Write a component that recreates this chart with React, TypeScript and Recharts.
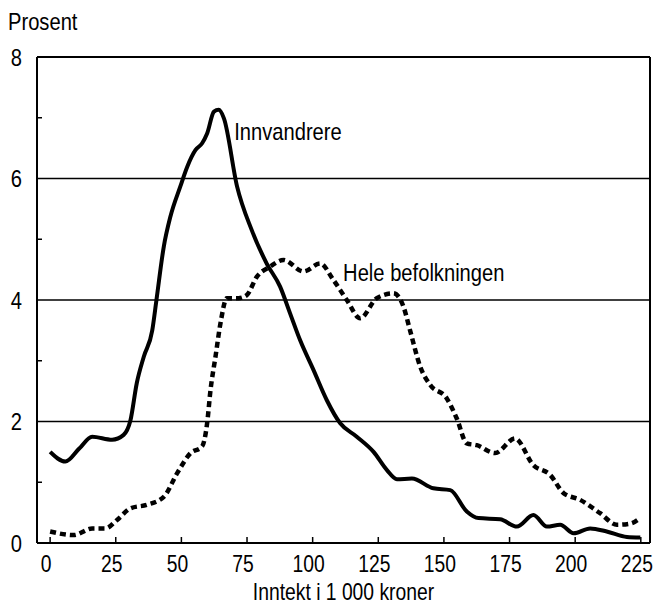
import React from 'react';
import { LineChart, Line, XAxis, YAxis, ReferenceLine, ReferenceDot } from 'recharts';

const innvandrereX = [0, 5.8, 11, 16, 23.6, 28, 30.6, 33, 35.7, 38.9, 40.5, 43.3, 45.8, 49.6, 52.2, 55.4, 57.9, 59.8, 62.4, 64.2, 66.2, 71.2, 76.8, 82.5, 87.6, 91.4, 95.2, 100.3, 105.4, 110.5, 116.8, 123.2, 128.3, 132.1, 137.8, 146, 152.4, 158.7, 163.2, 171.4, 177.8, 184.1, 189.2, 194.3, 199.4, 205.7, 212, 219.7, 224.8];
const innvandrereY = [1.5, 1.34, 1.55, 1.75, 1.7, 1.78, 2.02, 2.63, 3.07, 3.5, 4.0, 4.88, 5.37, 5.87, 6.19, 6.47, 6.58, 6.74, 7.1, 7.13, 6.99, 5.87, 5.15, 4.6, 4.22, 3.78, 3.34, 2.85, 2.35, 1.97, 1.75, 1.5, 1.2, 1.05, 1.06, 0.9, 0.87, 0.52, 0.41, 0.39, 0.27, 0.46, 0.27, 0.3, 0.16, 0.24, 0.19, 0.1, 0.09];

const heleX = [0, 9, 16, 21.1, 25.5, 30.6, 37, 43.3, 48.4, 53.5, 57.9, 59.8, 61.1, 63, 64.9, 67.3, 71.7, 74.9, 78.7, 83.8, 88.9, 96.5, 102.9, 107.9, 113, 118.1, 124.4, 130.8, 134.6, 137.1, 141, 144.8, 151.1, 154.9, 158.7, 162.5, 169.5, 177.1, 184.1, 190.5, 195.6, 201.9, 209.5, 215.9, 221, 224.8];
const heleY = [0.19, 0.13, 0.24, 0.24, 0.38, 0.57, 0.63, 0.76, 1.15, 1.48, 1.59, 1.97, 2.52, 3.07, 3.62, 4.03, 4.03, 4.08, 4.38, 4.55, 4.66, 4.47, 4.6, 4.33, 4.0, 3.7, 4.03, 4.11, 3.89, 3.5, 2.9, 2.6, 2.38, 2.05, 1.64, 1.61, 1.48, 1.72, 1.28, 1.12, 0.82, 0.71, 0.49, 0.3, 0.32, 0.41];

const xTicks = [0, 25, 50, 75, 100, 125, 150, 175, 200, 225];
const yTicks = [0, 1, 2, 3, 4, 5, 6, 7, 8];
const yLabelTicks = [0, 2, 4, 6, 8];
const gridValues = [2, 4, 6];
const xDomain: [number, number] = [-5, 228.5];
const yDomain: [number, number] = [0, 8];

const seriesNames = ['Innvandrere', 'Hele befolkningen'];
const yAxisTitle = 'Prosent';
const xAxisTitle = 'Inntekt i 1 000 kroner';

const innvandrereData = innvandrereX.map((x, i) => ({ x, y: innvandrereY[i] }));
const heleData = heleX.map((x, i) => ({ x, y: heleY[i] }));

const FONT = '"Liberation Sans", Arial, sans-serif';
const FS = 24;
const SQUEEZE = 0.84;

const NarrowText = ({ x, y, anchor = 'start', dy, size = FS, children }: any) => (
  <g transform={`translate(${x},${y}) scale(${SQUEEZE},1)`}>
    <text x={0} y={0} dy={dy} textAnchor={anchor} fontFamily={FONT} fontSize={size} fill="#000">
      {children}
    </text>
  </g>
);

const XTick = (props: any) => {
  const { x, y, payload } = props;
  const axisY = y - 10;
  return (
    <g>
      <line x1={x} x2={x} y1={axisY} y2={axisY - 6} stroke="#000" strokeWidth={1.5} />
      <NarrowText x={x - 4} y={axisY + 29} anchor="middle" size={23}>
        {payload.value}
      </NarrowText>
    </g>
  );
};

const YTick = (props: any) => {
  const { x, y, payload } = props;
  const axisX = x + 15;
  if (yLabelTicks.includes(payload.value)) {
    return (
      <NarrowText x={x} y={y} dy="0.36em" anchor="end">
        {payload.value}
      </NarrowText>
    );
  }
  return <line x1={axisX} x2={axisX + 5} y1={y} y2={y} stroke="#000" strokeWidth={1.5} />;
};

const SeriesLabel = (text: string) => (props: any) => {
  const vb = props.viewBox || {};
  return (
    <NarrowText x={vb.x} y={vb.y} dy="0.36em" anchor="start">
      {text}
    </NarrowText>
  );
};

const YTitle = () => (
  <NarrowText x={8} y={30} anchor="start">
    {yAxisTitle}
  </NarrowText>
);

const XTitle = (props: any) => {
  const vb = props.viewBox || { x: 0, y: 0, width: 0, height: 0 };
  return (
    <NarrowText x={vb.x + vb.width / 2} y={vb.y + vb.height - 5} anchor="middle" size={23}>
      {xAxisTitle}
    </NarrowText>
  );
};

export default function App() {
  return (
    <div style={{ position: 'absolute', left: 0, top: 0, background: '#fff' }}>
      <LineChart width={657} height={605} margin={{ top: 57, right: 7, bottom: 0, left: 0 }}>
        <XAxis
          dataKey="x"
          type="number"
          domain={xDomain}
          allowDataOverflow
          ticks={xTicks}
          interval={0}
          height={62}
          tickSize={0}
          tickMargin={10}
          tickLine={false}
          axisLine={{ stroke: '#000', strokeWidth: 2 }}
          tick={<XTick />}
          label={<XTitle />}
        />
        <YAxis
          type="number"
          domain={yDomain}
          ticks={yTicks}
          interval={0}
          width={37}
          tickSize={0}
          tickMargin={15}
          tickLine={false}
          axisLine={{ stroke: '#000', strokeWidth: 2 }}
          tick={<YTick />}
          label={<YTitle />}
        />
        {gridValues.map((v) => (
          <ReferenceLine key={v} y={v} stroke="#000" strokeWidth={1.5} />
        ))}
        <ReferenceLine y={yDomain[1]} stroke="#000" strokeWidth={2} />
        <ReferenceLine x={xDomain[1]} stroke="#000" strokeWidth={2} />
        <Line
          data={heleData}
          dataKey="y"
          name={seriesNames[1]}
          type="monotone"
          stroke="#000"
          strokeWidth={4.5}
          strokeDasharray="6 4"
          dot={false}
          activeDot={false}
          isAnimationActive={false}
        />
        <Line
          data={innvandrereData}
          dataKey="y"
          name={seriesNames[0]}
          type="monotone"
          stroke="#000"
          strokeWidth={4}
          dot={false}
          activeDot={false}
          isAnimationActive={false}
        />
        <ReferenceDot x={70.1} y={6.78} r={0} fill="none" stroke="none" label={SeriesLabel(seriesNames[0])} />
        <ReferenceDot x={111.6} y={4.46} r={0} fill="none" stroke="none" label={SeriesLabel(seriesNames[1])} />
      </LineChart>
    </div>
  );
}
